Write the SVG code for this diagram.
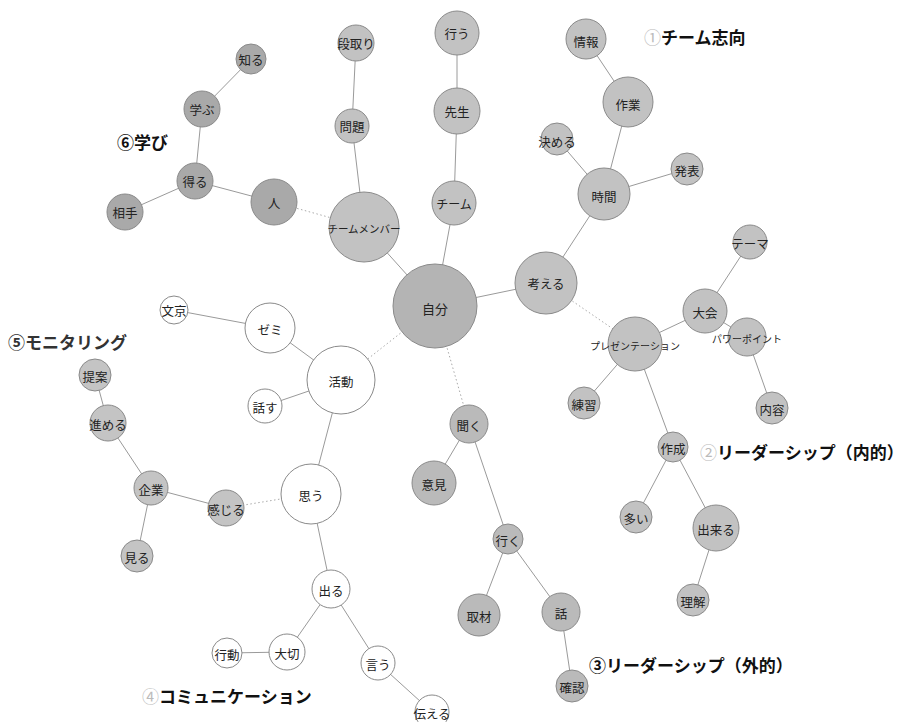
<svg xmlns="http://www.w3.org/2000/svg" width="904" height="722" viewBox="0 0 904 722">
<style>
.e{stroke:#9a9a9a;stroke-width:1;fill:none}
.d{stroke:#aaaaaa;stroke-width:1;stroke-dasharray:1.5 2.5;fill:none}
circle{stroke:#8a8a8a;stroke-width:1}
.g1{fill:#c2c2c2}
.g3{fill:#bababa}
.g6{fill:#a9a9a9}
.g0{fill:#b4b4b4}
.g4{fill:#ffffff}
.g5{fill:#c4c4c4}
text{font-family:"Noto Sans CJK JP","Noto Sans",sans-serif;fill:#222}
.n{font-size:12.5px;text-anchor:middle;dominant-baseline:central}
.lb{font-size:17px;font-weight:bold;fill:#111}
.lc{fill:#bbbbbb;font-weight:normal}
</style>
<rect width="904" height="722" fill="#ffffff"/>
<g id="edges">
<line class="e" x1="251" y1="59" x2="202" y2="109"/>
<line class="e" x1="202" y1="109" x2="195" y2="181"/>
<line class="e" x1="195" y1="181" x2="125" y2="212"/>
<line class="e" x1="195" y1="181" x2="274" y2="202"/>
<line class="d" x1="274" y1="202" x2="364" y2="227"/>
<line class="e" x1="356" y1="43" x2="352" y2="126"/>
<line class="e" x1="352" y1="126" x2="364" y2="227"/>
<line class="e" x1="364" y1="227" x2="435" y2="306"/>
<line class="e" x1="457" y1="33" x2="457" y2="111"/>
<line class="e" x1="457" y1="111" x2="454" y2="203"/>
<line class="e" x1="454" y1="203" x2="435" y2="306"/>
<line class="e" x1="586" y1="39" x2="628" y2="102"/>
<line class="e" x1="628" y1="102" x2="604" y2="194"/>
<line class="e" x1="557" y1="139" x2="604" y2="194"/>
<line class="e" x1="687" y1="169" x2="604" y2="194"/>
<line class="e" x1="604" y1="194" x2="546" y2="283"/>
<line class="e" x1="546" y1="283" x2="435" y2="306"/>
<line class="d" x1="546" y1="283" x2="635" y2="344"/>
<line class="e" x1="750" y1="242" x2="705" y2="311"/>
<line class="e" x1="705" y1="311" x2="635" y2="344"/>
<line class="e" x1="705" y1="311" x2="747" y2="337"/>
<line class="e" x1="747" y1="337" x2="772" y2="408"/>
<line class="e" x1="635" y1="344" x2="584" y2="403"/>
<line class="e" x1="635" y1="344" x2="673" y2="447"/>
<line class="e" x1="673" y1="447" x2="636" y2="517"/>
<line class="e" x1="673" y1="447" x2="716" y2="528"/>
<line class="e" x1="716" y1="528" x2="693" y2="600"/>
<line class="d" x1="435" y1="306" x2="469" y2="424"/>
<line class="e" x1="469" y1="424" x2="434" y2="483"/>
<line class="e" x1="469" y1="424" x2="508" y2="539"/>
<line class="e" x1="508" y1="539" x2="479" y2="615"/>
<line class="e" x1="508" y1="539" x2="561" y2="612"/>
<line class="e" x1="561" y1="612" x2="572" y2="686"/>
<line class="d" x1="435" y1="306" x2="341" y2="380"/>
<line class="e" x1="174" y1="310" x2="270" y2="328"/>
<line class="e" x1="270" y1="328" x2="341" y2="380"/>
<line class="e" x1="265" y1="406" x2="341" y2="380"/>
<line class="e" x1="341" y1="380" x2="311" y2="494"/>
<line class="d" x1="311" y1="494" x2="226" y2="508"/>
<line class="e" x1="311" y1="494" x2="331" y2="589"/>
<line class="e" x1="331" y1="589" x2="287" y2="652"/>
<line class="e" x1="287" y1="652" x2="227" y2="653"/>
<line class="e" x1="331" y1="589" x2="378" y2="663"/>
<line class="e" x1="378" y1="663" x2="432" y2="712"/>
<line class="e" x1="226" y1="508" x2="151" y2="488"/>
<line class="e" x1="151" y1="488" x2="108" y2="423"/>
<line class="e" x1="108" y1="423" x2="95" y2="375"/>
<line class="e" x1="151" y1="488" x2="137" y2="556"/>
</g>
<g id="n-shiru"><circle class="g6" cx="251" cy="59" r="15"/><text class="n" x="251" y="59">知る</text></g>
<g id="n-manabu"><circle class="g6" cx="202" cy="109" r="18"/><text class="n" x="202" y="109">学ぶ</text></g>
<g id="n-eru"><circle class="g6" cx="195" cy="181" r="18"/><text class="n" x="195" y="181">得る</text></g>
<g id="n-aite"><circle class="g6" cx="125" cy="212" r="18"/><text class="n" x="125" y="212">相手</text></g>
<g id="n-hito"><circle class="g6" cx="274" cy="202" r="23"/><text class="n" x="274" y="202">人</text></g>
<g id="n-dandori"><circle class="g1" cx="356" cy="43" r="18"/><text class="n" x="356" y="43">段取り</text></g>
<g id="n-mondai"><circle class="g1" cx="352" cy="126" r="17"/><text class="n" x="352" y="126">問題</text></g>
<g id="n-member"><circle class="g1" cx="364" cy="227" r="35"/><text class="n" x="364" y="228" style="font-size:10.5px">チームメンバー</text></g>
<g id="n-okonau"><circle class="g1" cx="457" cy="33" r="22"/><text class="n" x="457" y="33">行う</text></g>
<g id="n-sensei"><circle class="g1" cx="457" cy="111" r="23"/><text class="n" x="457" y="111">先生</text></g>
<g id="n-team"><circle class="g1" cx="454" cy="203" r="22"/><text class="n" x="454" y="203" style="font-size:12px">チーム</text></g>
<g id="n-jibun"><circle class="g0" cx="435" cy="306" r="42"/><text class="n" x="435" y="308" style="font-size:13px">自分</text></g>
<g id="n-jouhou"><circle class="g1" cx="586" cy="39" r="20"/><text class="n" x="586" y="41">情報</text></g>
<g id="n-sagyou"><circle class="g1" cx="628" cy="102" r="25"/><text class="n" x="628" y="104">作業</text></g>
<g id="n-kimeru"><circle class="g1" cx="557" cy="139" r="16"/><text class="n" x="557" y="141">決める</text></g>
<g id="n-happyou"><circle class="g1" cx="687" cy="169" r="16"/><text class="n" x="687" y="170">発表</text></g>
<g id="n-jikan"><circle class="g1" cx="604" cy="194" r="26"/><text class="n" x="604" y="196">時間</text></g>
<g id="n-kangaeru"><circle class="g1" cx="546" cy="283" r="31"/><text class="n" x="546" y="283">考える</text></g>
<g id="n-theme"><circle class="g1" cx="750" cy="242" r="17"/><text class="n" x="750" y="243">テーマ</text></g>
<g id="n-taikai"><circle class="g1" cx="705" cy="311" r="22"/><text class="n" x="705" y="312">大会</text></g>
<g id="n-presen"><circle class="g1" cx="635" cy="344" r="27"/><text class="n" x="635" y="345" style="font-size:10px">プレゼンテーション</text></g>
<g id="n-ppt"><circle class="g1" cx="747" cy="337" r="19"/><text class="n" x="747" y="338" style="font-size:10px">パワーポイント</text></g>
<g id="n-renshu"><circle class="g1" cx="584" cy="403" r="16"/><text class="n" x="584" y="404">練習</text></g>
<g id="n-naiyou"><circle class="g1" cx="772" cy="408" r="16"/><text class="n" x="772" y="409">内容</text></g>
<g id="n-sakusei"><circle class="g1" cx="673" cy="447" r="15"/><text class="n" x="673" y="448">作成</text></g>
<g id="n-ooi"><circle class="g1" cx="636" cy="517" r="16"/><text class="n" x="636" y="518">多い</text></g>
<g id="n-dekiru"><circle class="g1" cx="716" cy="528" r="23"/><text class="n" x="716" y="529">出来る</text></g>
<g id="n-rikai"><circle class="g1" cx="693" cy="600" r="16"/><text class="n" x="693" y="601">理解</text></g>
<g id="n-kiku"><circle class="g3" cx="469" cy="424" r="19"/><text class="n" x="469" y="425">聞く</text></g>
<g id="n-iken"><circle class="g3" cx="434" cy="483" r="22"/><text class="n" x="434" y="484">意見</text></g>
<g id="n-iku"><circle class="g3" cx="508" cy="539" r="15"/><text class="n" x="508" y="540">行く</text></g>
<g id="n-shuzai"><circle class="g3" cx="479" cy="615" r="21"/><text class="n" x="479" y="616">取材</text></g>
<g id="n-hanashi"><circle class="g3" cx="561" cy="612" r="19"/><text class="n" x="561" y="613">話</text></g>
<g id="n-kakunin"><circle class="g3" cx="572" cy="686" r="16"/><text class="n" x="572" y="687">確認</text></g>
<g id="n-bunkyo"><circle class="g4" cx="174" cy="310" r="14"/><text class="n" x="174" y="310">文京</text></g>
<g id="n-zemi"><circle class="g4" cx="270" cy="328" r="25"/><text class="n" x="270" y="329">ゼミ</text></g>
<g id="n-katsudou"><circle class="g4" cx="341" cy="380" r="34"/><text class="n" x="341" y="381">活動</text></g>
<g id="n-hanasu"><circle class="g4" cx="265" cy="406" r="17"/><text class="n" x="265" y="407">話す</text></g>
<g id="n-omou"><circle class="g4" cx="311" cy="494" r="30"/><text class="n" x="311" y="495">思う</text></g>
<g id="n-deru"><circle class="g4" cx="331" cy="589" r="19"/><text class="n" x="331" y="590">出る</text></g>
<g id="n-koudou"><circle class="g4" cx="227" cy="653" r="15"/><text class="n" x="227" y="654">行動</text></g>
<g id="n-taisetsu"><circle class="g4" cx="287" cy="652" r="18"/><text class="n" x="287" y="653">大切</text></g>
<g id="n-iu"><circle class="g4" cx="378" cy="663" r="17"/><text class="n" x="378" y="664">言う</text></g>
<g id="n-tsutaeru"><circle class="g4" cx="432" cy="712" r="17"/><text class="n" x="432" y="713">伝える</text></g>
<g id="n-teian"><circle class="g5" cx="95" cy="375" r="16"/><text class="n" x="95" y="376">提案</text></g>
<g id="n-susumeru"><circle class="g5" cx="108" cy="423" r="18"/><text class="n" x="108" y="424">進める</text></g>
<g id="n-kigyou"><circle class="g5" cx="151" cy="488" r="17"/><text class="n" x="151" y="489">企業</text></g>
<g id="n-kanjiru"><circle class="g5" cx="226" cy="508" r="18"/><text class="n" x="226" y="509">感じる</text></g>
<g id="n-miru"><circle class="g5" cx="137" cy="556" r="16"/><text class="n" x="137" y="557">見る</text></g>
<g id="labels">
<text class="lb" x="644" y="44"><tspan class="lc">①</tspan>チーム志向</text>
<text class="lb" x="700" y="459"><tspan class="lc">②</tspan>リーダーシップ（内的）</text>
<text class="lb" x="589" y="672">③リーダーシップ（外的）</text>
<text class="lb" x="142" y="703"><tspan class="lc">④</tspan>コミュニケーション</text>
<text class="lb" x="8" y="349" style="fill:#333">⑤モニタリング</text>
<text class="lb" x="117" y="149">⑥学び</text>
</g>
</svg>
